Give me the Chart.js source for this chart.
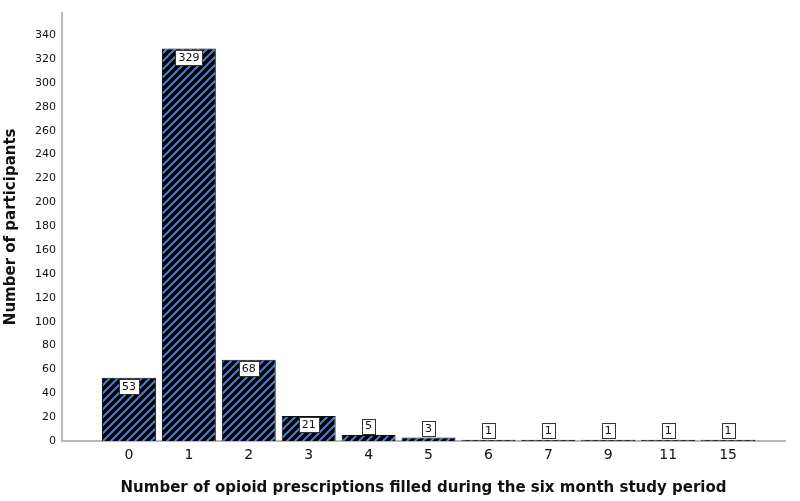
<!DOCTYPE html>
<html>
<head>
<meta charset="utf-8">
<script src="https://cdn.jsdelivr.net/npm/chart.js@4.4.1/dist/chart.umd.min.js"></script>
<style>
  html, body { margin: 0; padding: 0; background: #fff; }
  #wrap { width: 800px; height: 501px; position: relative; }
</style>
</head>
<body>
<div id="wrap"><canvas id="c" width="800" height="501"></canvas></div>
<script>
const categories = ['0', '1', '2', '3', '4', '5', '6', '7', '9', '11', '15'];
const participants = [53, 329, 68, 21, 5, 3, 1, 1, 1, 1, 1];
const xTitle = 'Number of opioid prescriptions filled during the six month study period';
const yTitle = 'Number of participants';

const FONT = '"DejaVu Sans", Verdana, sans-serif';

function makePattern() {
  const s = 8;
  const p = document.createElement('canvas');
  p.width = s; p.height = s;
  const g = p.getContext('2d');
  g.fillStyle = '#000';
  g.fillRect(0, 0, s, s);
  g.strokeStyle = '#4c7dd4';
  g.lineWidth = 2;
  g.beginPath();
  g.moveTo(-1, s + 1); g.lineTo(s + 1, -1);
  g.moveTo(-1, 1); g.lineTo(1, -1);
  g.moveTo(s - 1, s + 1); g.lineTo(s + 1, s - 1);
  g.stroke();
  return document.getElementById('c').getContext('2d').createPattern(p, 'repeat');
}

const labelPlugin = {
  id: 'valueBoxes',
  afterDatasetsDraw(chart) {
    const ctx = chart.ctx;
    const meta = chart.getDatasetMeta(0);
    ctx.save();
    ctx.font = '11px ' + FONT;
    ctx.textAlign = 'center';
    ctx.textBaseline = 'middle';
    meta.data.forEach((el, i) => {
      const v = chart.data.datasets[0].data[i].y;
      const txt = String(v);
      const h = el.base - el.y;
      const cy = h > 20 ? el.y + 9 : el.y - 9;
      const w = Math.round(ctx.measureText(txt).width + 6);
      const bh = 15;
      const bx = Math.round(el.x - w / 2) + 0.5;
      const by = Math.round(cy - bh / 2) + 0.5;
      ctx.fillStyle = '#fff';
      ctx.fillRect(bx, by, w, bh);
      ctx.strokeStyle = '#333';
      ctx.lineWidth = 1;
      ctx.strokeRect(bx, by, w, bh);
      ctx.fillStyle = '#111';
      ctx.fillText(txt, el.x, cy + 0.5);
    });
    ctx.restore();
  }
};

const ctx = document.getElementById('c').getContext('2d');
new Chart(ctx, {
  type: 'bar',
  data: {
    datasets: [{
      data: participants.map((v, i) => ({ x: i, y: v })),
      backgroundColor: makePattern(),
      borderColor: '#0a0f1e',
      borderWidth: 1,
      categoryPercentage: 1,
      barPercentage: 0.9
    }]
  },
  options: {
    responsive: false,
    animation: false,
    devicePixelRatio: 1,
    layout: { padding: { top: 6, right: 15, left: 0, bottom: 0 } },
    plugins: { legend: { display: false }, tooltip: { enabled: false } },
    scales: {
      x: {
        type: 'linear',
        offset: false,
        min: -1.118,
        max: 10.95,
        grid: { display: false, drawTicks: false, offset: false },
        border: { color: '#b8b8b8', width: 2 },
        ticks: {
          stepSize: 1,
          autoSkip: false,
          maxRotation: 0,
          includeBounds: false,
          padding: 6,
          color: '#111',
          font: { family: FONT, size: 14 },
          callback: (v) => (Number.isInteger(v) && v >= 0 && v < categories.length) ? categories[v] : ''
        },
        title: {
          display: true,
          text: xTitle,
          color: '#111',
          font: { family: FONT, size: 15, weight: 'bold' },
          padding: { top: 0, bottom: 4 }
        },
        afterFit: (s) => { s.height = 60; }
      },
      y: {
        min: 0,
        max: 359,
        grid: { display: false, drawTicks: false },
        border: { color: '#b8b8b8', width: 2 },
        ticks: {
          stepSize: 20,
          includeBounds: false,
          padding: 6,
          color: '#111',
          font: { family: FONT, size: 11 }
        },
        title: {
          display: true,
          text: yTitle,
          color: '#111',
          font: { family: FONT, size: 15, weight: 'bold' },
          padding: { top: 2, bottom: 0 }
        },
        afterFit: (s) => { s.width = 62; }
      }
    }
  },
  plugins: [labelPlugin]
});
</script>
</body>
</html>
